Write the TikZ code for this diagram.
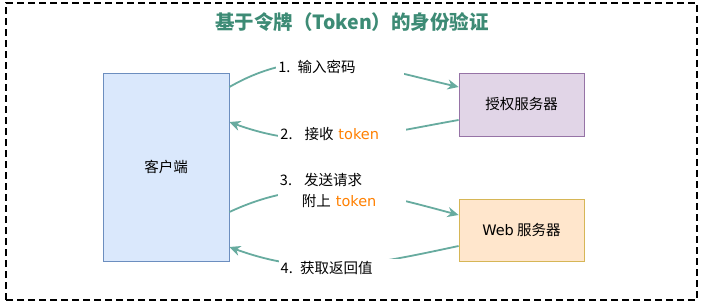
\documentclass[tikz,border=0pt]{standalone}
\usepackage{fontspec}
\setmainfont{Noto Sans CJK SC}
\newfontfamily\latinfont{DejaVu Sans}
\usetikzlibrary{arrows.meta}
\definecolor{edgegreen}{HTML}{67AB9F}
\definecolor{titlegreen}{HTML}{3D8B75}
\definecolor{tokenorange}{HTML}{FF8000}
\definecolor{clientfill}{HTML}{DAE8FC}
\definecolor{clientline}{HTML}{6C8EBF}
\definecolor{authfill}{HTML}{E1D5E7}
\definecolor{authline}{HTML}{9673A6}
\definecolor{webfill}{HTML}{FFE6CC}
\definecolor{webline}{HTML}{D6B656}
\newcommand{\tok}{\textcolor{tokenorange}{\latinfont token}}

\begin{document}
\begin{tikzpicture}[x=1pt, y=1pt, >={Stealth[length=11pt,width=10pt,inset=3.5pt]},
  every node/.style={font=\fontsize{14.5}{21}\selectfont},
  box/.style={draw, line width=0.8pt, minimum width=125pt, inner sep=0pt},
  flow/.style={->, draw=edgegreen, line width=1.8pt},
  lbl/.style={fill=white, inner sep=2pt, text width=124pt, align=left}]
  \useasboundingbox (0,0) rectangle (701,303);
  \draw[line width=1.2pt, dash pattern=on 7pt off 4pt] (6,3) rectangle (697,300);
  \node[font=\fontsize{19.5}{22}\selectfont\bfseries, text=titlegreen] (title) at (352,281) {基于令牌（Token）的身份验证};
  \node[box, fill=clientfill, draw=clientline, minimum width=126pt, minimum height=188pt] (client) at (166,136) {客户端};
  \node[box, fill=authfill, draw=authline, minimum height=63pt] (auth) at (521.5,198.5) {授权服务器};
  \node[box, fill=webfill, draw=webline, minimum height=62pt] (web) at (521.5,73) {{\latinfont Web} 服务器};
  % end points on the boxes
  \coordinate (c1) at (client.east |- 0,216);
  \coordinate (c2) at (client.east |- 0,181);
  \coordinate (c3) at (client.east |- 0,91);
  \coordinate (c4) at (client.east |- 0,56);
  \coordinate (a1) at (auth.west |- 0,216);
  \coordinate (a2) at (auth.west |- 0,183);
  \coordinate (w3) at (web.west |- 0,88);
  \coordinate (w4) at (web.west |- 0,57);
  % login
  \draw[flow] (c1) to[out=30, in=167] node[lbl, yshift=-4pt] (l1) {1. 输入密码} (a1);
  \draw[flow] (a2) to[out=190, in=-20] node[lbl, yshift=4pt] (l2) {2. \ 接收 \tok} (c2);
  % request
  \draw[flow] (c3) to[out=25, in=165] node[lbl] (l3) {3. \ 发送请求\\\hspace*{22pt}附上 \tok} (w3);
  \draw[flow] (w4) to[out=192, in=-20] node[lbl, yshift=-3pt] (l4) {4. 获取返回值} (c4);
\end{tikzpicture}
\end{document}
